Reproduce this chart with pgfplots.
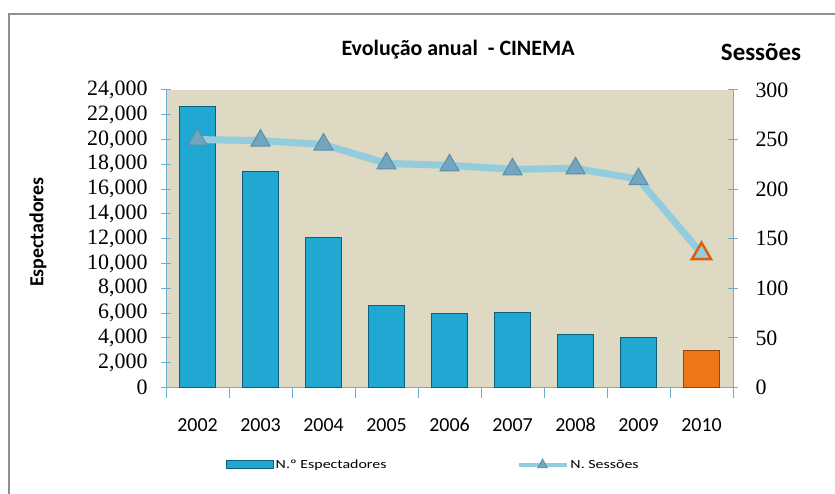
\documentclass[border=0pt]{standalone}
\usepackage{pgfplots}
\pgfplotsset{compat=1.18}
\usepackage{graphicx}
\usepackage{fontspec}
\setmainfont{Carlito}
\newfontfamily\numfont{Liberation Serif}

\definecolor{tanbg}{HTML}{DDD9C3}
\definecolor{barmain}{HTML}{20A8D3}
\definecolor{bardark}{HTML}{0D5F7A}
\definecolor{orfill}{HTML}{EE7518}
\definecolor{ordark}{HTML}{9A4208}
\definecolor{orleft}{HTML}{D8600E}
\definecolor{lineblue}{HTML}{93CDDD}
\definecolor{markfill}{HTML}{71A6BE}
\definecolor{markdraw}{HTML}{5C8FA8}
\definecolor{axisblue}{HTML}{6BAED0}
\definecolor{framegray}{HTML}{8A9096}

\begin{document}
\begin{tikzpicture}
\useasboundingbox (0,0) rectangle (835bp,494bp);
\draw[framegray, line width=1.5bp] (9bp,0) -- (9bp,480bp) -- (835bp,480bp);

% Espectadores (bars, left axis)
\begin{axis}[
    at={(166bp,106.5bp)}, anchor=south west,
    scale only axis, width=567bp, height=297.5bp,
    xmin=-0.5, xmax=8.5, ymin=0, ymax=24000,
    axis x line*=bottom, axis y line*=left,
    axis line style={draw=axisblue, line width=1bp, -},
    axis background/.style={fill=tanbg},
    ybar, bar width=36bp, bar shift=0pt,
    xtick={0,...,8},
    xticklabels={2002,2003,2004,2005,2006,2007,2008,2009,2010},
    major x tick style={draw=none},
    minor xtick={-0.5,0.5,...,8.5},
    minor x tick style={draw=axisblue, line width=1bp},
    minor tick length=10bp,
    xtick align=outside,
    xticklabel style={font=\fontsize{20}{22}\selectfont,
        text height=14bp, text depth=0pt, yshift=-16bp},
    ytick distance=2000,
    ytick align=center,
    major tick length=10bp,
    major y tick style={draw=axisblue, line width=1bp},
    scaled y ticks=false,
    yticklabel style={font=\numfont\fontsize{22}{24}\selectfont,
        /pgf/number format/1000 sep={,},
        /pgf/number format/assume math mode=true, xshift=-10bp},
]
\addplot[fill=barmain, draw=bardark, line width=1bp] coordinates {
    (0,22700) (1,17400) (2,12100) (3,6600) (4,5950)
    (5,6050) (6,4300) (7,4000)
};
\addplot[fill=orfill, draw=ordark, line width=1bp] coordinates {(8,3000)};
\end{axis}

% Sessoes (line, right axis)
\begin{axis}[
    at={(166bp,106.5bp)}, anchor=south west,
    scale only axis, width=567bp, height=297.5bp,
    xmin=-0.5, xmax=8.5, ymin=0, ymax=300,
    hide x axis,
    axis y line*=right,
    axis line style={draw=axisblue, line width=1bp, -},
    ytick distance=50,
    ytick align=center,
    major tick length=10bp,
    major y tick style={draw=axisblue, line width=1bp},
    yticklabel style={font=\numfont\fontsize{22}{24}\selectfont,
        /pgf/number format/assume math mode=true, xshift=14bp},
    legend columns=2,
    legend style={draw=none, fill=none, inner sep=0pt,
        at={(0.105,-0.26)}, anchor=west,
        font=\fontsize{12.5}{14}\selectfont,
        /tikz/every even column/.append style={column sep=128bp}},
]
\addlegendimage{legend image code/.code={
    \draw[fill=barmain, draw=bardark, line width=1bp]
      (0bp,-4bp) rectangle (47bp,4bp);}}
\addlegendentry{\scalebox{1.28}[1]{N.º Espectadores}}
\addplot[lineblue, line width=7bp, mark=triangle*, mark size=11bp,
    mark options={fill=markfill, draw=markdraw, line width=1bp},
    legend image code/.code={
      \draw[lineblue, line width=4bp] (0bp,0bp) -- (48bp,0bp);
      \draw[fill=markfill, draw=markdraw, line width=0.6bp]
        (24bp,6bp) -- (19bp,-3bp) -- (29bp,-3bp) -- cycle;}]
  coordinates {
    (0,250) (1,249) (2,245) (3,226) (4,224)
    (5,220) (6,221) (7,210) (8,135)
};
\addlegendentry{\scalebox{1.28}[1]{N. Sessões}}
\addplot[forget plot, only marks, mark=triangle*, mark size=11bp,
    mark options={fill=lineblue, draw=orleft, line width=2.5bp}]
  coordinates {(8,135)};
\end{axis}

\node[font=\bfseries\fontsize{22}{24}\selectfont] at (458bp,444bp)
  {Evolução anual\ \ - CINEMA};
\node[font=\bfseries\fontsize{25}{27}\selectfont] at (761bp,442bp) {Sessões};
\node[font=\bfseries\fontsize{20}{22}\selectfont, rotate=90] at (38bp,262bp)
  {Espectadores};
\end{tikzpicture}
\end{document}
